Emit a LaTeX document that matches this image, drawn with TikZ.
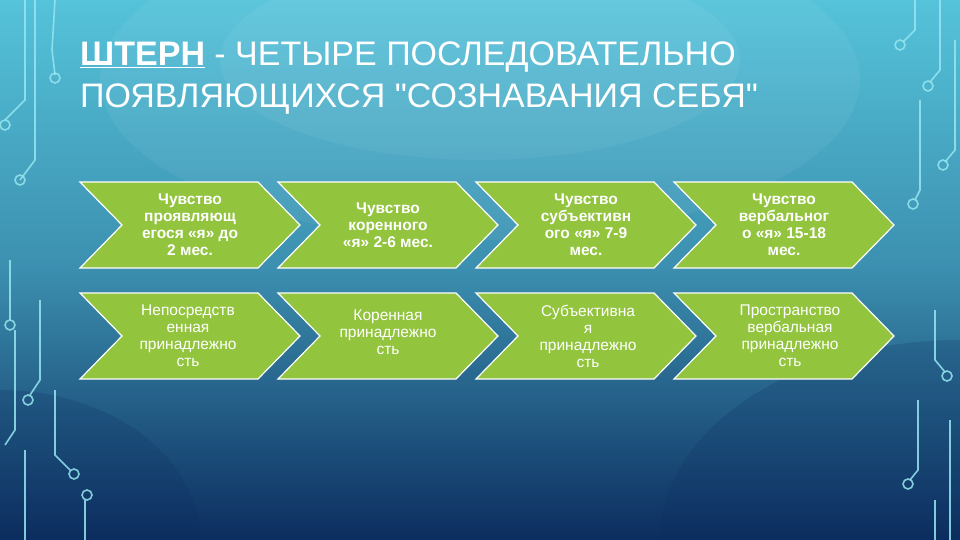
\documentclass[tikz,border=0pt]{standalone}
\usepackage{fontspec}
\setmainfont{Liberation Sans}
\newfontfamily\plainfont{Liberation Sans}
\usetikzlibrary{calc}
\definecolor{chev}{RGB}{146,196,62}
\definecolor{bgtop}{RGB}{85,195,218}
\definecolor{bgbot}{RGB}{12,45,95}
\definecolor{circ}{RGB}{150,230,240}
\tikzset{
  chevtext/.style={text=white,align=center,font=\fontsize{15.5}{17}\selectfont,inner sep=0pt},
  chevtextb/.style={chevtext,font=\bfseries\fontsize{15.5}{17}\selectfont},
  wire/.style={circ,line width=1.6pt,opacity=0.85},
  pad/.style={circ,line width=1.6pt,opacity=0.85,fill=none}
}
\newcommand{\chevron}[2]{% left x, top y
  \fill[chev,draw=white,line width=1.2pt] (#1,#2) -- ++(178,0) -- ++(42,43) -- ++(-42,43) -- ++(-178,0) -- ++(42,-43) -- cycle;
}
\begin{document}
\begin{tikzpicture}[x=1pt,y=-1pt]
\useasboundingbox (0,0) rectangle (960,540);
\shade[top color=bgtop,bottom color=bgbot,middle color=bgtop!65!bgbot] (0,0) rectangle (960,540);
\fill[white,opacity=0.05] (480,80) ellipse (380 and 160);
\fill[white,opacity=0.05] (480,60) ellipse (260 and 100);
\fill[bgbot,opacity=0.2] (960,540) ellipse (300 and 200);
\fill[bgbot,opacity=0.2] (0,540) ellipse (200 and 150);
% circuit left
\draw[wire] (35,0) -- (35,160) -- (20,180);
\draw[pad] (20,180) circle (5);
\draw[wire] (25,0) -- (25,100) -- (5,120);
\draw[pad] (5,125) circle (5);
\draw[wire] (55,0) -- (52,50) -- (55,75);
\draw[pad] (55,78) circle (5);
\draw[wire] (10,260) -- (10,320);
\draw[pad] (10,325) circle (5);
\draw[wire] (40,300) -- (40,380) -- (30,395);
\draw[pad] (28,400) circle (5);
\draw[wire] (15,330) -- (15,430) -- (5,445);
\draw[wire] (55,390) -- (55,455) -- (70,470);
\draw[pad] (74,474) circle (5);
\draw[wire] (25,450) -- (25,540);
\draw[wire] (85,500) -- (85,540);
\draw[pad] (87,495) circle (5);
% circuit right
\draw[wire] (915,0) -- (915,30) -- (903,42);
\draw[pad] (900,45) circle (5);
\draw[wire] (940,0) -- (940,70) -- (930,82);
\draw[pad] (928,86) circle (5);
\draw[wire] (955,40) -- (955,150) -- (945,162);
\draw[pad] (943,165) circle (5);
\draw[wire] (920,100) -- (920,190) -- (915,200);
\draw[pad] (913,204) circle (5);
\draw[wire] (935,310) -- (935,360) -- (945,372);
\draw[pad] (947,376) circle (5);
\draw[wire] (918,400) -- (918,470) -- (910,480);
\draw[pad] (908,484) circle (5);
\draw[wire] (950,420) -- (950,540);
\draw[wire] (935,500) -- (935,540);
% title
\node[anchor=west,text=white,inner sep=0pt,font=\plainfont\fontsize{34}{42}\selectfont,align=left] (title) at (80,78)
  {\underline{\textbf{ШТЕРН}} - ЧЕТЫРЕ ПОСЛЕДОВАТЕЛЬНО\\ПОЯВЛЯЮЩИХСЯ "СОЗНАВАНИЯ СЕБЯ"};
% chevrons
\foreach \i in {0,1,2,3}{
  \chevron{80+198*\i}{182}
  \chevron{80+198*\i}{293}
}
\node[chevtextb] (a1) at (190,225) {Чувство\\проявляющ\\егося «я» до\\2 мес.};
\node[chevtextb] (a2) at (388,225) {Чувство\\коренного\\«я» 2-6 мес.};
\node[chevtextb] (a3) at (586,225) {Чувство\\субъективн\\ого «я» 7-9\\мес.};
\node[chevtextb] (a4) at (784,225) {Чувство\\вербальног\\о «я» 15-18\\мес.};
\node[chevtext] (b1) at (188,336) {Непосредств\\енная\\принадлежно\\сть};
\node[chevtext] (b2) at (388,332) {Коренная\\принадлежно\\сть};
\node[chevtext] (b3) at (588,336) {Субъективна\\я\\принадлежно\\сть};
\node[chevtext] (b4) at (790,336) {Пространство\\вербальная\\принадлежно\\сть};
\end{tikzpicture}
\end{document}
